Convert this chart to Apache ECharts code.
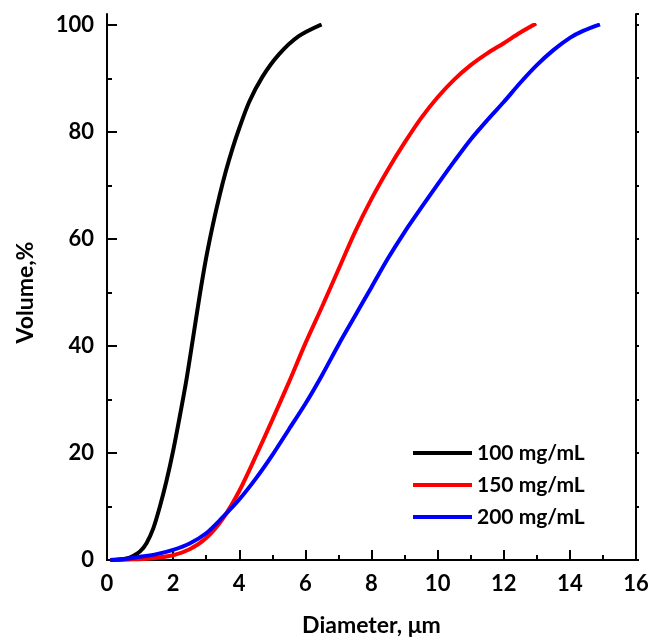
<!DOCTYPE html>
<html>
<head>
<meta charset="utf-8">
<script src="https://cdn.jsdelivr.net/npm/echarts@6/dist/echarts.min.js"></script>
<style>html,body{margin:0;padding:0;background:#fff;}#c{width:654px;height:643px;}</style>
</head>
<body>
<div id="c"></div>
<script>
var seriesNames = ['100 mg/mL', '150 mg/mL', '200 mg/mL'];
var d100 = [[0.1,0],[0.6,0.3],[0.8,0.8],[1.0,1.6],[1.2,3.2],[1.4,5.9],[1.6,10.0],[1.8,14.8],[2.0,20.4],[2.2,26.8],[2.4,33.6],[2.6,41.4],[2.8,49.3],[3.0,56.5],[3.2,62.6],[3.4,68.0],[3.6,72.8],[3.8,77.0],[4.0,80.7],[4.3,85.6],[4.7,90.3],[5.2,94.5],[5.8,97.9],[6.49,100.1]];
var d150 = [[0.1,0],[0.7,0.1],[1.3,0.3],[2.0,0.9],[2.5,2.0],[3.0,4.1],[3.5,7.7],[4.0,12.9],[4.5,19.4],[5.0,26.2],[5.5,33.2],[6.0,40.5],[6.5,47.3],[7.0,54.3],[7.5,61.3],[8.0,67.5],[8.5,73.0],[9.0,78.0],[9.5,82.6],[10.0,86.5],[10.5,89.8],[11.0,92.5],[11.5,94.7],[12.0,96.6],[12.5,98.6],[12.98,100.3]];
var d200 = [[0.1,0],[0.5,0.15],[1.0,0.6],[1.5,1.1],[2.0,1.9],[2.5,3.1],[3.0,5.0],[3.5,8.0],[4.0,11.3],[4.5,15.2],[5.0,19.6],[5.5,24.4],[6.0,29.2],[6.5,34.5],[7.0,40.2],[7.5,45.6],[8.0,51.0],[8.5,56.4],[9.0,61.3],[9.5,65.8],[10.0,70.2],[10.5,74.5],[11.0,78.6],[11.5,82.2],[12.0,85.6],[12.5,89.2],[13.0,92.5],[13.5,95.3],[14.0,97.6],[14.4,98.9],[14.91,100.1]];
var colors = ['#000000', '#ff0000', '#0000ff'];

var font = 'Lato';
var chart = echarts.init(document.getElementById('c'), null, {renderer: 'canvas'});
var axisLineStyle = {color: '#000', width: 2};
var option = {
  animation: false,
  backgroundColor: '#fff',
  textStyle: {fontFamily: font},
  grid: [
    {left: 107, right: 18, top: 25, bottom: 83},
    {left: 107, right: 18, top: 14, bottom: 83}
  ],
  legend: {
    orient: 'vertical',
    left: 413,
    top: 442,
    padding: 0,
    icon: 'rect',
    itemWidth: 59,
    itemHeight: 4,
    itemGap: 10,
    data: seriesNames,
    textStyle: {fontFamily: font, fontWeight: 'bold', fontSize: 21, color: '#000', lineHeight: 22}
  },
  xAxis: [
    {
      type: 'value', gridIndex: 0, min: 0, max: 16, interval: 2, position: 'bottom',
      name: 'Diameter, \u03bcm', nameLocation: 'middle', nameGap: 54,
      nameTextStyle: {fontFamily: font, fontWeight: 'bold', fontSize: 23, color: '#000'},
      axisLine: {lineStyle: axisLineStyle},
      axisTick: {inside: true, length: 10, lineStyle: {width: 2, color: '#000'}},
      minorTick: {show: true, splitNumber: 2, length: 5, lineStyle: {width: 2, color: '#000'}},
      axisLabel: {fontFamily: font, fontWeight: 'bold', fontSize: 22, color: '#000', margin: 13},
      splitLine: {show: false}, minorSplitLine: {show: false}
    },
    {
      type: 'value', gridIndex: 1, min: 0, max: 16, interval: 1, position: 'top',
      axisLine: {lineStyle: axisLineStyle},
      axisTick: {inside: false, length: 3, lineStyle: {width: 2, color: '#000'}},
      axisLabel: {show: false}, splitLine: {show: false}
    }
  ],
  yAxis: [
    {
      type: 'value', gridIndex: 0, min: 0, max: 100, interval: 20, position: 'left',
      name: 'Volume,%', nameLocation: 'middle', nameGap: 70,
      nameTextStyle: {fontFamily: font, fontWeight: 'bold', fontSize: 23, color: '#000'},
      axisLine: {show: true, lineStyle: axisLineStyle},
      axisTick: {inside: true, length: 10, lineStyle: {width: 2, color: '#000'}},
      minorTick: {show: true, splitNumber: 2, length: 5, lineStyle: {width: 2, color: '#000'}},
      axisLabel: {fontFamily: font, fontWeight: 'bold', fontSize: 22, color: '#000', margin: 13},
      splitLine: {show: false}, minorSplitLine: {show: false}
    },
    {
      type: 'value', gridIndex: 1, min: 0, max: 102, position: 'left',
      axisLine: {show: true, lineStyle: axisLineStyle},
      axisTick: {show: false}, axisLabel: {show: false}, splitLine: {show: false}
    },
    {
      type: 'value', gridIndex: 1, min: 0, max: 102, interval: 10, position: 'right',
      axisLine: {show: true, lineStyle: axisLineStyle},
      axisTick: {show: true, inside: false, length: 3, lineStyle: {width: 2, color: '#000'}},
      axisLabel: {show: false}, splitLine: {show: false}
    }
  ],
  series: [d100, d150, d200].map(function (d, i) {
    return {
      name: seriesNames[i], type: 'line', xAxisIndex: 0, yAxisIndex: 0,
      data: d, showSymbol: false, smooth: 0.3,
      lineStyle: {color: colors[i], width: 4}, itemStyle: {color: colors[i]},
      z: 3 + i
    };
  })
};
chart.setOption(option);
</script>
</body>
</html>
